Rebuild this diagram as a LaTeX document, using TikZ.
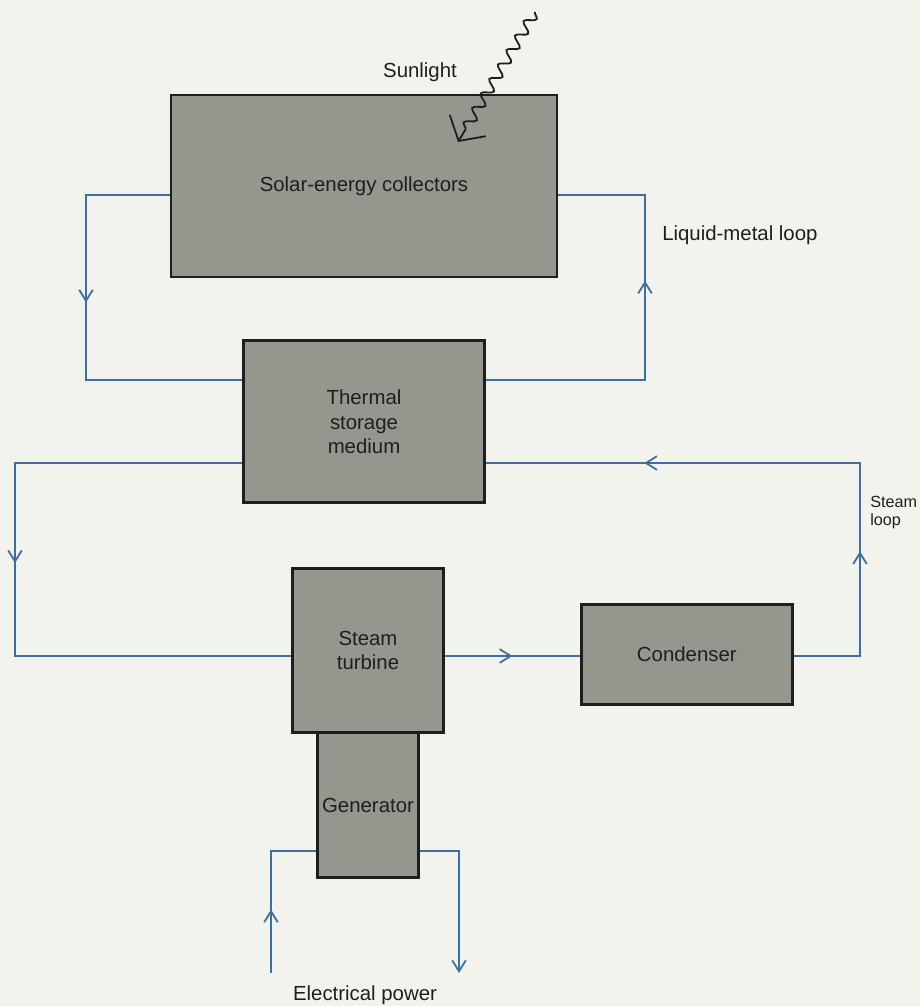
\documentclass[tikz,border=0pt]{standalone}
\usepackage{fontspec}
\setmainfont{Liberation Sans}
\usepackage{tikz}
\usetikzlibrary{arrows.meta,positioning,decorations.markings,decorations.pathmorphing}
\definecolor{SPpaper}{HTML}{F3F3EE}
\definecolor{SPgray}{HTML}{96968F}
\definecolor{SPblue}{HTML}{3F6FA0}
\definecolor{SPink}{HTML}{1E1E1E}
\tikzset{
  sp/box/.style={draw=SPink, fill=SPgray, line width=0.7mm, inner sep=0.5mm, align=center, text=SPink, font=\fontsize{14.5}{17.5}\selectfont},
  sp/label/.style={inner sep=0pt, text=SPink, font=\fontsize{14.5}{17.5}\selectfont},
  sp/small/.style={sp/label, align=left, font=\fontsize{11.5}{12.5}\selectfont},
  sp/loop/.style={draw, color=SPblue, line width=0.45mm},
  sp/flow/.style={postaction={decorate, decoration={markings, mark=at position #1 with {\arrow{>}}}}},
  sp/ray/.style={draw=SPink, line width=0.45mm, decorate, decoration={snake, segment length=4.2mm, amplitude=1.3mm, post length=3mm}},
  >={Straight Barb[length=2.75mm, width=3.4mm]}
}

\begin{document}
\begin{tikzpicture}[x=0.25mm, y=-0.25mm, node distance=15mm and 30mm]
  \useasboundingbox (0,0) rectangle (920,1006);
  \fill[SPpaper] (0,0) rectangle (920,1006);

  % boxes
  \node[sp/box, minimum width=96.5mm, minimum height=45.5mm] (collectors) at (364,186) {Solar-energy collectors};
  \node[sp/box, minimum width=60.25mm, minimum height=40.5mm, below=15.25mm of collectors] (storage) {Thermal\\storage\\medium};
  \node[sp/box, minimum width=37.75mm, minimum height=41mm, below=15.75mm of storage, xshift=1mm] (turbine) {Steam\\turbine};
  \node[sp/box, minimum width=25.25mm, minimum height=36.25mm, below=-0.7mm of turbine] (generator) {Generator};
  \node[sp/box, minimum width=52.75mm, minimum height=25mm, right=33.75mm of turbine, yshift=-1mm] (condenser) {Condenser};

  % loop levels
  \coordinate (lmtop) at (0,195);   \coordinate (lmbot) at (0,380);
  \coordinate (lmleft) at (86,0);   \coordinate (lmright) at (645,0);
  \coordinate (sttop) at (0,463);   \coordinate (stbot) at (0,656);
  \coordinate (stleft) at (15,0);   \coordinate (stright) at (860,0);
  \coordinate (eplevel) at (0,851); \coordinate (epend) at (0,973);
  \coordinate (epleft) at (271,0);  \coordinate (epright) at (459,0);

  % liquid-metal loop
  \draw[sp/loop, sp/flow=0.45] (collectors.west |- lmtop) -| (lmleft |- lmbot) -- (storage.west |- lmbot);
  \draw[sp/loop, sp/flow=0.6] (storage.east |- lmbot) -| (lmright |- lmtop) -- (collectors.east |- lmtop);

  % steam loop
  \draw[sp/loop, sp/flow=0.47] (storage.west |- sttop) -| (stleft |- stbot) -- (turbine.west |- stbot);
  \draw[sp/loop, sp/flow=0.5] (turbine.east |- stbot) -- (condenser.west |- stbot);
  \draw[sp/loop, sp/flow=0.27, sp/flow=0.75] (condenser.east |- stbot) -| (stright |- sttop) -- (storage.east |- sttop);

  % electrical power
  \draw[sp/loop, sp/flow=0.38] (epleft |- epend) |- (generator.west |- eplevel);
  \draw[sp/loop, ->] (generator.east |- eplevel) -| (epright |- epend);

  % sunlight
  \coordinate (sunstart) at (535,12);
  \coordinate (suntip) at (458,142);
  \draw[sp/ray, -{Straight Barb[length=4.5mm, width=10.5mm]}] (sunstart) -- (suntip);

  % labels
  \node[sp/label, anchor=base] (sunlight) at (420,77) {Sunlight};
  \node[sp/label, anchor=base west] (liquidlabel) at (662,240) {Liquid-metal loop};
  \node[sp/small, anchor=north west] (steamlabel) at (870,496) {Steam\\loop};
  \node[sp/label, anchor=base] (powerlabel) at (365,1000) {Electrical power};
\end{tikzpicture}
\end{document}
